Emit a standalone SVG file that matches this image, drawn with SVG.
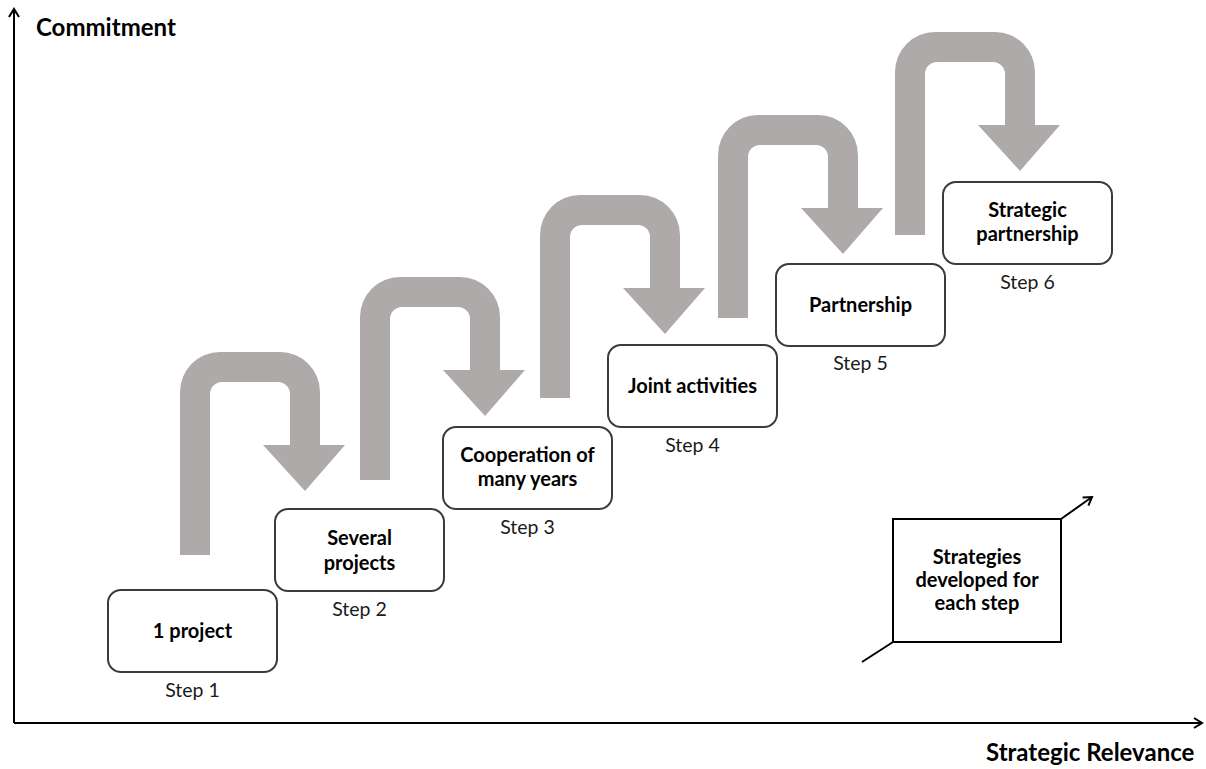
<svg xmlns="http://www.w3.org/2000/svg" width="1206" height="769" viewBox="0 0 1206 769">
  <style>
    .bg { fill: #ffffff; }
    .axis { fill: none; stroke: #000000; stroke-width: 2; }
    .step-box { fill: #ffffff; stroke: #3b3b3b; stroke-width: 2; }
    .note-box { fill: #ffffff; stroke: #000000; stroke-width: 2; }
    .label { font-family: Lato, "Liberation Sans", sans-serif; font-weight: bold; font-size: 20px; fill: #000000; text-anchor: middle; }
    .step { font-family: Lato, "Liberation Sans", sans-serif; font-size: 19.5px; fill: #1a1a1a; text-anchor: middle; }
    .title { font-family: Lato, "Liberation Sans", sans-serif; font-weight: bold; font-size: 24px; fill: #000000; }
    .uturn { fill: #aeaaaa; }
  </style>
  <defs>
    <!-- U-turn arrow: up the left stem, over the top, down into an arrowhead -->
    <path id="uturn" d="M0,203 V40 A40,40 0 0 1 40,0 H100 A40,40 0 0 1 140,40 V93 H165 L125,139 L83,93 H110 V42 A12,12 0 0 0 98,30 H42 A12,12 0 0 0 30,42 V203 Z"/>
    <marker id="open-head" viewBox="0 0 12 12" refX="10" refY="6" markerWidth="12" markerHeight="12" markerUnits="userSpaceOnUse" orient="auto">
      <path d="M2,1 L10,6 L2,11" fill="none" stroke="#000000" stroke-width="2"/>
    </marker>
  </defs>

  <rect class="bg" x="0" y="0" width="1206" height="769"/>

  <!-- axes -->
  <g id="axes">
    <line class="axis" x1="14" y1="723" x2="14" y2="9" marker-end="url(#open-head)"/>
    <line class="axis" x1="14" y1="723" x2="1202" y2="723" marker-end="url(#open-head)"/>
    <text class="title" x="36" y="36">Commitment</text>
    <text class="title" x="986" y="761">Strategic Relevance</text>
  </g>

  <!-- connectors: grey U-turn arrows between steps -->
  <g id="connectors">
    <use href="#uturn" class="uturn" transform="translate(180,352)"/>
    <use href="#uturn" class="uturn" transform="translate(360,277)"/>
    <use href="#uturn" class="uturn" transform="translate(540,195)"/>
    <use href="#uturn" class="uturn" transform="translate(718,115)"/>
    <use href="#uturn" class="uturn" transform="translate(895,32)"/>
  </g>

  <!-- steps -->
  <g id="step1">
    <rect class="step-box" x="108" y="590" width="169" height="82" rx="13"/>
    <text class="label" x="192.5" y="638">1 project</text>
    <text class="step" x="192.5" y="697">Step 1</text>
  </g>
  <g id="step2">
    <rect class="step-box" x="275" y="509" width="169" height="82" rx="13"/>
    <text class="label" x="359.5" y="545">Several</text>
    <text class="label" x="359.5" y="570">projects</text>
    <text class="step" x="359.5" y="616">Step 2</text>
  </g>
  <g id="step3">
    <rect class="step-box" x="443" y="427" width="169" height="82" rx="13"/>
    <text class="label" x="527.5" y="462">Cooperation of</text>
    <text class="label" x="527.5" y="486">many years</text>
    <text class="step" x="527.5" y="534">Step 3</text>
  </g>
  <g id="step4">
    <rect class="step-box" x="608" y="345" width="169" height="82" rx="13"/>
    <text class="label" x="692.5" y="393">Joint activities</text>
    <text class="step" x="692.5" y="452">Step 4</text>
  </g>
  <g id="step5">
    <rect class="step-box" x="776" y="264" width="169" height="82" rx="13"/>
    <text class="label" x="860.5" y="312">Partnership</text>
    <text class="step" x="860.5" y="370">Step 5</text>
  </g>
  <g id="step6">
    <rect class="step-box" x="943" y="182" width="169" height="82" rx="13"/>
    <text class="label" x="1027.5" y="217">Strategic</text>
    <text class="label" x="1027.5" y="241">partnership</text>
    <text class="step" x="1027.5" y="289">Step 6</text>
  </g>

  <!-- legend: strategy box with a diagonal arrow passing through it -->
  <g id="strategies">
    <line class="axis" x1="862" y1="662" x2="893" y2="642"/>
    <line class="axis" x1="1061" y1="519" x2="1092" y2="497" marker-end="url(#open-head)"/>
    <rect class="note-box" x="893" y="519" width="168" height="123"/>
    <text class="label" x="977" y="564">Strategies</text>
    <text class="label" x="977" y="587">developed for</text>
    <text class="label" x="977" y="610">each step</text>
  </g>
</svg>
